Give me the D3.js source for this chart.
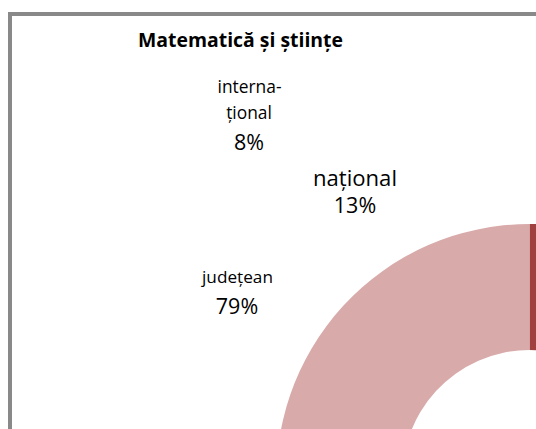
<!DOCTYPE html>
<html>
<head>
<meta charset="utf-8">
<script src="https://cdn.jsdelivr.net/npm/d3@7"></script>
<style>
  html, body { margin: 0; padding: 0; background: #fff; overflow: hidden; }
  svg { display: block; }
</style>
</head>
<body>
<svg id="chart" width="536" height="429"></svg>
<script>
// ---- data ----
const title = "Matematică și științe";
const categories = ["internațional", "național", "județean"];
const values = [8, 13, 79];
const labelLines = [["interna-", "țional"], ["național"], ["județean"]];
const percentLabels = ["8%", "13%", "79%"];
const colors = ["#A0413F", "#C0504D", "#D9AAAA"];

// ---- layout ----
const W = 536, H = 429;
const cx = 529.5, cy = 477, outerR = 253, innerR = 127;
const font = "'Open Sans', 'Noto Sans', sans-serif";

const svg = d3.select("#chart");

// chart border (chart area extends beyond the visible window)
svg.append("rect")
  .attr("x", 10).attr("y", 14)
  .attr("width", 600).attr("height", 500)
  .attr("fill", "#fff")
  .attr("stroke", "#898989")
  .attr("stroke-width", 4);

// donut
const pie = d3.pie().sort(null).value(d => d)
  .startAngle(0).endAngle(2 * Math.PI);
const arc = d3.arc().innerRadius(innerR).outerRadius(outerR);
const color = d3.scaleOrdinal().domain(categories).range(colors);

svg.append("g")
  .attr("transform", `translate(${cx},${cy})`)
  .selectAll("path")
  .data(pie(values))
  .join("path")
  .attr("d", arc)
  .attr("fill", (d, i) => color(categories[i]));

// text helpers
function addText(str, x, y, size, bold) {
  return svg.append("text")
    .attr("x", x).attr("y", y)
    .attr("text-anchor", "middle")
    .attr("font-family", font)
    .attr("font-weight", bold ? 700 : 400)
    .attr("font-size", size)
    .attr("fill", "#000")
    .text(str);
}
// size that makes str span targetW
function fitSize(str, targetW, bold) {
  const t = addText(str, 0, -100, 20, bold);
  const w = t.node().getComputedTextLength();
  t.remove();
  return w > 0 ? +(20 * targetW / w).toFixed(2) : 20;
}

addText(title, 240.5, 47, fitSize(title, 205, true), true);

const pctSize = 21.5;
// label 1: two lines, shared size
const s1 = fitSize(labelLines[0][0], 64);
addText(labelLines[0][0], 249.5, 93, s1);
addText(labelLines[0][1], 249, 119, s1);
addText(percentLabels[0], 249, 150, pctSize);
// label 2
addText(labelLines[1][0], 355, 186, fitSize(labelLines[1][0], 84));
addText(percentLabels[1], 355, 213, pctSize);
// label 3
addText(labelLines[2][0], 237.5, 283, fitSize(labelLines[2][0], 71));
addText(percentLabels[2], 237, 314, pctSize);
</script>
</body>
</html>
